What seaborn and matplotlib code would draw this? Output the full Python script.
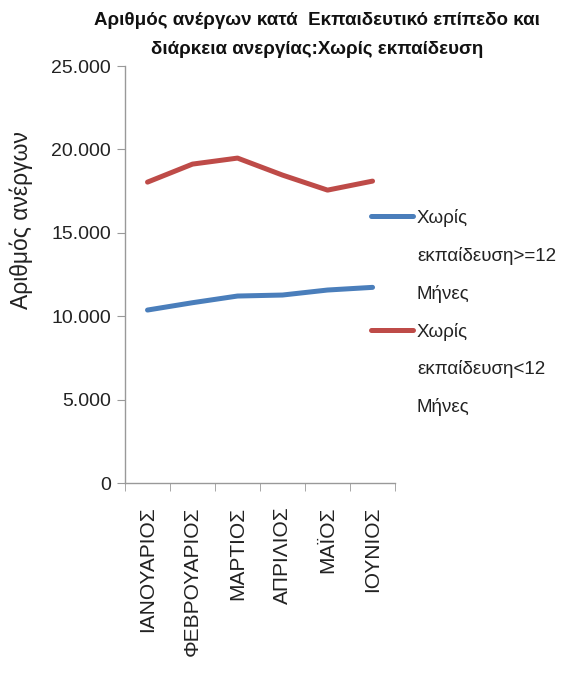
import matplotlib
matplotlib.use("Agg")
import matplotlib.pyplot as plt
import seaborn as sns
import pandas as pd
from matplotlib.ticker import FuncFormatter, FixedLocator
from matplotlib.lines import Line2D

months = ["ΙΑΝΟΥΑΡΙΟΣ", "ΦΕΒΡΟΥΑΡΙΟΣ", "ΜΑΡΤΙΟΣ", "ΑΠΡΙΛΙΟΣ", "ΜΑΪΟΣ", "ΙΟΥΝΙΟΣ"]
long_term = [10370, 10810, 11210, 11270, 11570, 11730]
short_term = [18040, 19120, 19480, 18460, 17560, 18100]
series_names = ["Χωρίς εκπαίδευση>=12 Μήνες", "Χωρίς εκπαίδευση<12 Μήνες"]
legend_lines = [["Χωρίς", "εκπαίδευση>=12", "Μήνες"], ["Χωρίς", "εκπαίδευση<12", "Μήνες"]]
colors = ["#4a7ebb", "#be4b48"]

df = pd.DataFrame({
    "month": months * 2,
    "value": long_term + short_term,
    "series": [series_names[0]] * 6 + [series_names[1]] * 6,
})
df["x"] = list(range(6)) * 2

sns.set_style("white")
plt.rcParams["font.family"] = ["Liberation Sans", "DejaVu Sans"]

fig = plt.figure(figsize=(5.68, 6.73), dpi=100)
ax = fig.add_axes([0.2201, 0.2823, 0.4754, 0.6196])

sns.lineplot(data=df, x="x", y="value", hue="series", palette=colors,
             linewidth=3.6, ax=ax, legend=True)

ax.set_xlim(-0.5, 5.5)
ax.set_ylim(0, 25000)
ax.set_yticks([0, 5000, 10000, 15000, 20000, 25000])
ax.yaxis.set_major_formatter(FuncFormatter(lambda v, p: f"{int(v):,}".replace(",", ".")))
ax.set_xticks(range(6))
ax.set_xticklabels(months, rotation=90, fontsize=15, color="#222222")
ax.xaxis.set_minor_locator(FixedLocator([i - 0.5 for i in range(7)]))
ax.tick_params(axis="x", which="major", length=0, pad=17)
ax.tick_params(axis="x", which="minor", length=6, color="#999999", direction="out", bottom=True)
ax.tick_params(axis="y", which="major", length=6, color="#999999", direction="out", left=True,
               labelsize=14, labelcolor="#222222", pad=4)
ax.set_xlabel("")
ax.set_ylabel("Αριθμός ανέργων", fontsize=16.5, color="#222222")
ax.yaxis.set_label_coords(-0.34, 0.63)

for s in ["top", "right"]:
    ax.spines[s].set_visible(False)
for s in ["left", "bottom"]:
    ax.spines[s].set_color("#999999")
    ax.spines[s].set_linewidth(1)

handles, _ = ax.get_legend_handles_labels()
blank = Line2D([], [], color="none")
leg_handles, leg_labels = [], []
for h, lines in zip(handles, legend_lines):
    for i, t in enumerate(lines):
        leg_handles.append(h if i == 0 else blank)
        leg_labels.append(t)
leg = ax.legend(leg_handles, leg_labels, loc="upper left",
                bbox_to_anchor=(371 / 568, 1 - 209 / 673), bbox_transform=fig.transFigure,
                frameon=False, fontsize=13.5, handlelength=2.25, labelspacing=1.06,
                handletextpad=0.2, borderpad=0, borderaxespad=0)
for line in leg.get_lines():
    line.set_linewidth(3.6)
for t in leg.get_texts():
    t.set_color("#222222")

fig.text(0.558, 0.982, "Αριθμός ανέργων κατά  Εκπαιδευτικό επίπεδο και\nδιάρκεια ανεργίας:Χωρίς εκπαίδευση",
         ha="center", va="top", fontsize=13.5, fontweight="bold", linespacing=1.9, color="#111111")

fig.savefig("out.png", dpi=100)
